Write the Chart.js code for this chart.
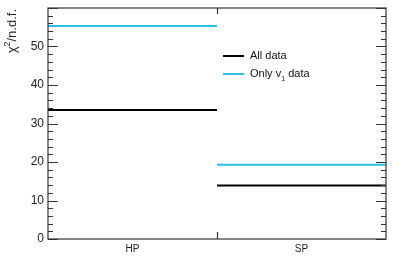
<!DOCTYPE html>
<html>
<head>
<meta charset="utf-8">
<script src="https://cdn.jsdelivr.net/npm/chart.js@4/dist/chart.umd.min.js"></script>
<style>
  html, body { margin: 0; padding: 0; background: #fff; }
  #wrap { width: 399px; height: 272px; }
</style>
</head>
<body>
<div id="wrap"><canvas id="chi2"></canvas></div>
<script>
const categories = ['HP', 'SP'];
const allData = [33.5, 13.9];
const onlyV1 = [55.3, 19.3];
const yTicks = [0, 10, 20, 30, 40, 50];

// each category is a flat segment across its bin, with a gap between bins
function steps(vals) {
  const pts = [];
  vals.forEach((v, i) => {
    if (i > 0) pts.push({ x: i, y: null });
    pts.push({ x: i, y: v }, { x: i + 1, y: v });
  });
  return pts;
}

const FONT = '"Liberation Sans", Arial, sans-serif';

const frame = {
  id: 'frame',
  afterDraw(chart) {
    const { ctx, chartArea: a, scales } = chart;
    const ys = scales.y, xs = scales.x;
    ctx.save();
    ctx.strokeStyle = '#333';
    ctx.lineWidth = 1.2;
    ctx.strokeRect(a.left, a.top, a.right - a.left, a.bottom - a.top);
    // y ticks, inside on both sides
    for (let v = 0; v <= ys.max; v += 2) {
      const py = Math.round(ys.getPixelForValue(v)) + 0.5;
      const len = v % 10 === 0 ? 10 : 5;
      ctx.beginPath();
      ctx.moveTo(a.left, py); ctx.lineTo(a.left + len, py);
      ctx.moveTo(a.right, py); ctx.lineTo(a.right - len, py);
      ctx.stroke();
    }
    // bin separators on x
    for (let i = 1; i < categories.length; i++) {
      const px = Math.round(xs.getPixelForValue(i)) + 0.5;
      ctx.beginPath();
      ctx.moveTo(px, a.bottom); ctx.lineTo(px, a.bottom - 7);
      ctx.moveTo(px, a.top); ctx.lineTo(px, a.top + 6);
      ctx.stroke();
    }
    // y labels
    ctx.fillStyle = '#222';
    ctx.font = '12px ' + FONT;
    ctx.textAlign = 'right';
    ctx.textBaseline = 'middle';
    yTicks.forEach(v => ctx.fillText(String(v), a.left - 4, ys.getPixelForValue(v)));
    // x labels
    ctx.textAlign = 'center';
    ctx.textBaseline = 'top';
    ctx.font = '10px ' + FONT;
    categories.forEach((c, i) => ctx.fillText(c, xs.getPixelForValue(i + 0.5), a.bottom + 5));
    // axis title, rotated, aligned to top
    ctx.save();
    ctx.translate(12, a.top + 1);
    ctx.rotate(-Math.PI / 2);
    ctx.textAlign = 'right';
    ctx.textBaseline = 'middle';
    ctx.font = '13px ' + FONT;
    const t1 = '/n.d.f.';
    const w1 = ctx.measureText(t1).width;
    ctx.fillText(t1, 0, 0);
    ctx.font = '9px ' + FONT;
    const w2 = ctx.measureText('2').width;
    ctx.fillText('2', -w1, -4);
    ctx.font = '13px ' + FONT;
    ctx.fillText('χ', -w1 - w2, 0);
    ctx.restore();
    // legend
    const items = [['All data', '#000'], ['Only v', 'rgb(40,190,240)']];
    ctx.font = '11px ' + FONT;
    ctx.textAlign = 'left';
    ctx.textBaseline = 'middle';
    items.forEach(([txt, col], k) => {
      const ly = 56 + k * 18;
      ctx.strokeStyle = col;
      ctx.lineWidth = 2;
      ctx.beginPath();
      ctx.moveTo(223, ly); ctx.lineTo(244, ly);
      ctx.stroke();
      ctx.fillStyle = '#111';
      ctx.fillText(txt, 250, ly);
      if (k === 1) {
        const w = ctx.measureText(txt).width;
        ctx.font = '7px ' + FONT;
        ctx.fillText('1', 250 + w, ly + 5);
        ctx.font = '11px ' + FONT;
        ctx.fillText(' data', 250 + w + 4, ly);
      }
    });
    ctx.restore();
  }
};

new Chart(document.getElementById('chi2'), {
  type: 'line',
  data: {
    datasets: [{
      label: 'All data',
      data: steps(allData),
      borderColor: '#000',
      borderWidth: 2,
      pointRadius: 0,
      spanGaps: false
    }, {
      label: 'Only v1 data',
      data: steps(onlyV1),
      borderColor: 'rgb(40,190,240)',
      borderWidth: 2,
      pointRadius: 0,
      spanGaps: false
    }]
  },
  options: {
    responsive: true,
    maintainAspectRatio: false,
    animation: false,
    layout: { padding: { left: 0, right: 13, top: 8, bottom: 0 } },
    plugins: { legend: { display: false }, tooltip: { enabled: false } },
    scales: {
      x: {
        type: 'linear', min: 0, max: categories.length,
        grid: { display: false }, border: { display: false },
        ticks: { display: false },
        afterFit: s => { s.height = 33; }
      },
      y: {
        min: 0, max: 60,
        grid: { display: false }, border: { display: false },
        ticks: { display: false },
        afterFit: s => { s.width = 48; }
      }
    }
  },
  plugins: [frame]
});
</script>
</body>
</html>
